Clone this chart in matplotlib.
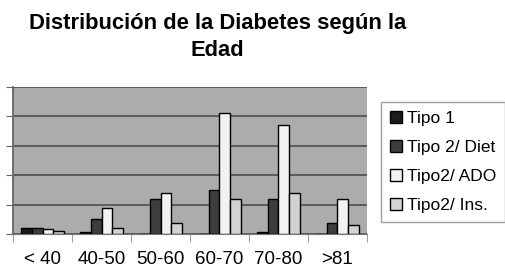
import matplotlib.pyplot as plt
import numpy as np

plt.rcParams['font.family'] = ['Liberation Sans', 'DejaVu Sans']

# Data (grid step = 10 units)
edades = ['< 40', '40-50', '50-60', '60-70', '70-80', '>81']
series = ['Tipo 1', 'Tipo 2/ Diet', 'Tipo2/ ADO', 'Tipo2/ Ins.']
tipo1 = [2.2, 0.8, 0, 0, 0.8, 0]
tipo2_diet = [2.2, 5.0, 11.8, 14.9, 11.9, 3.9]
tipo2_ado = [1.8, 9.0, 13.9, 41.0, 37.0, 11.9]
tipo2_ins = [1.0, 1.9, 3.9, 11.9, 13.9, 3.0]
colores = ['#1c1c1c', '#3d3d3d', '#f2f2f2', '#d2d2d2']

fig = plt.figure(figsize=(5.06, 2.70), dpi=100)
ax = fig.add_axes([0.026, 0.133, 0.699, 0.545])
ax.set_facecolor('#acacac')

x = np.arange(len(edades))
w = 0.183
valores = [tipo1, tipo2_diet, tipo2_ado, tipo2_ins]
for i, (v, c, s) in enumerate(zip(valores, colores, series)):
    ax.bar(x + (i - 1.5) * w, v, w, color=c, edgecolor='black', linewidth=1.0,
           label=s, zorder=3)

ax.set_xlim(-0.5, len(edades) - 0.5)
ax.set_ylim(0, 50)
ax.set_yticks(np.arange(0, 51, 10))
ax.set_yticklabels([])
ax.yaxis.grid(True, color='#555555', linewidth=1.3, zorder=1)
ax.tick_params(axis='y', length=5, color='#666666')

ax.set_xticks(x)
ax.set_xticklabels(edades, fontsize=13.5)
ax.set_xticks(np.arange(-0.5, len(edades), 1), minor=True)
ax.tick_params(axis='x', which='major', length=0, pad=12)
ax.tick_params(axis='x', which='minor', length=6, color='#888888')

for sp in ['top', 'right']:
    ax.spines[sp].set_visible(False)
ax.spines['left'].set_color('#666666')
ax.spines['left'].set_linewidth(1.3)
ax.spines['bottom'].set_color('#777777')

fig.text(0.43, 0.863, 'Distribución de la Diabetes según la\nEdad',
         ha='center', va='center', fontsize=15.8, fontweight='bold',
         linespacing=1.32)

leg = fig.legend(loc='upper left', bbox_to_anchor=(0.753, 0.622),
                 fontsize=12.5, handlelength=0.7, handleheight=0.7,
                 handletextpad=0.3, labelspacing=0.8, borderaxespad=0,
                 fancybox=False, edgecolor='#888888', borderpad=0.5)
leg.get_frame().set_linewidth(1.0)

plt.savefig('out.png', dpi=100)
